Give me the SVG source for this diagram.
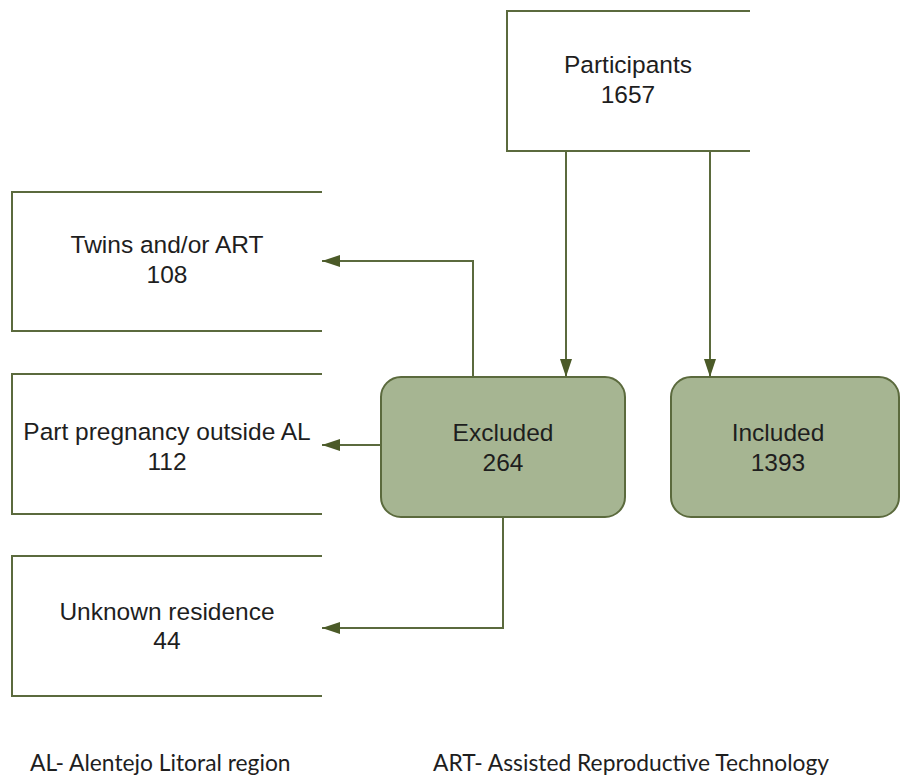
<svg xmlns="http://www.w3.org/2000/svg" width="901" height="775" viewBox="0 0 901 775">
<style>
.open{fill:none;stroke:#5b6a3d;stroke-width:2}
.rr{fill:#a6b592;stroke:#5b6a3d;stroke-width:2}
.t{font-family:"Liberation Sans",Arial,sans-serif;font-size:24.5px;fill:#1e1e1e;text-anchor:middle}
.f{font-family:Lato,"Open Sans",sans-serif;font-size:22.8px;fill:#1e1e1e}
.c{fill:none;stroke:#5b6a3d;stroke-width:2}
</style>
<defs>
<marker id="ah" viewBox="0 0 18 12" refX="18" refY="6" markerWidth="18" markerHeight="12" markerUnits="userSpaceOnUse" orient="auto">
<path d="M0,0 L18,6 L0,12 Z" fill="#4b5a28"/>
</marker>
</defs>
<rect width="901" height="775" fill="#ffffff"/>
<g id="participants">
<path class="open" d="M750,11 H507 V151 H750"/>
<text class="t" x="628" y="73">Participants</text>
<text class="t" x="628" y="103">1657</text>
</g>
<g id="twins">
<path class="open" d="M322,192 H12 V331 H322"/>
<text class="t" x="167" y="253">Twins and/or ART</text>
<text class="t" x="167" y="283">108</text>
</g>
<g id="part-pregnancy">
<path class="open" d="M322,374 H12 V514 H322"/>
<text class="t" x="167" y="440">Part pregnancy outside AL</text>
<text class="t" x="167" y="470">112</text>
</g>
<g id="unknown">
<path class="open" d="M322,556 H12 V696 H322"/>
<text class="t" x="167" y="620">Unknown residence</text>
<text class="t" x="167" y="649">44</text>
</g>
<g id="excluded">
<rect class="rr" x="381" y="377" width="244" height="140" rx="20" ry="20"/>
<text class="t" x="503" y="441">Excluded</text>
<text class="t" x="503" y="471">264</text>
</g>
<g id="included">
<rect class="rr" x="671" y="377" width="228" height="140" rx="20" ry="20"/>
<text class="t" x="778" y="441">Included</text>
<text class="t" x="778" y="471">1393</text>
</g>
<g id="connectors">
<path class="c" d="M566,151 V377" marker-end="url(#ah)"/>
<path class="c" d="M710,151 V377" marker-end="url(#ah)"/>
<path class="c" d="M473,377 V261 H322" marker-end="url(#ah)"/>
<path class="c" d="M381,445 H322" marker-end="url(#ah)"/>
<path class="c" d="M503,517 V628 H322" marker-end="url(#ah)"/>
</g>
<g id="footer">
<text class="f" x="30" y="771">AL- Alentejo Litoral region</text>
<text class="f" x="433" y="771">ART- Assisted Reproductive Technology</text>
</g>
</svg>
